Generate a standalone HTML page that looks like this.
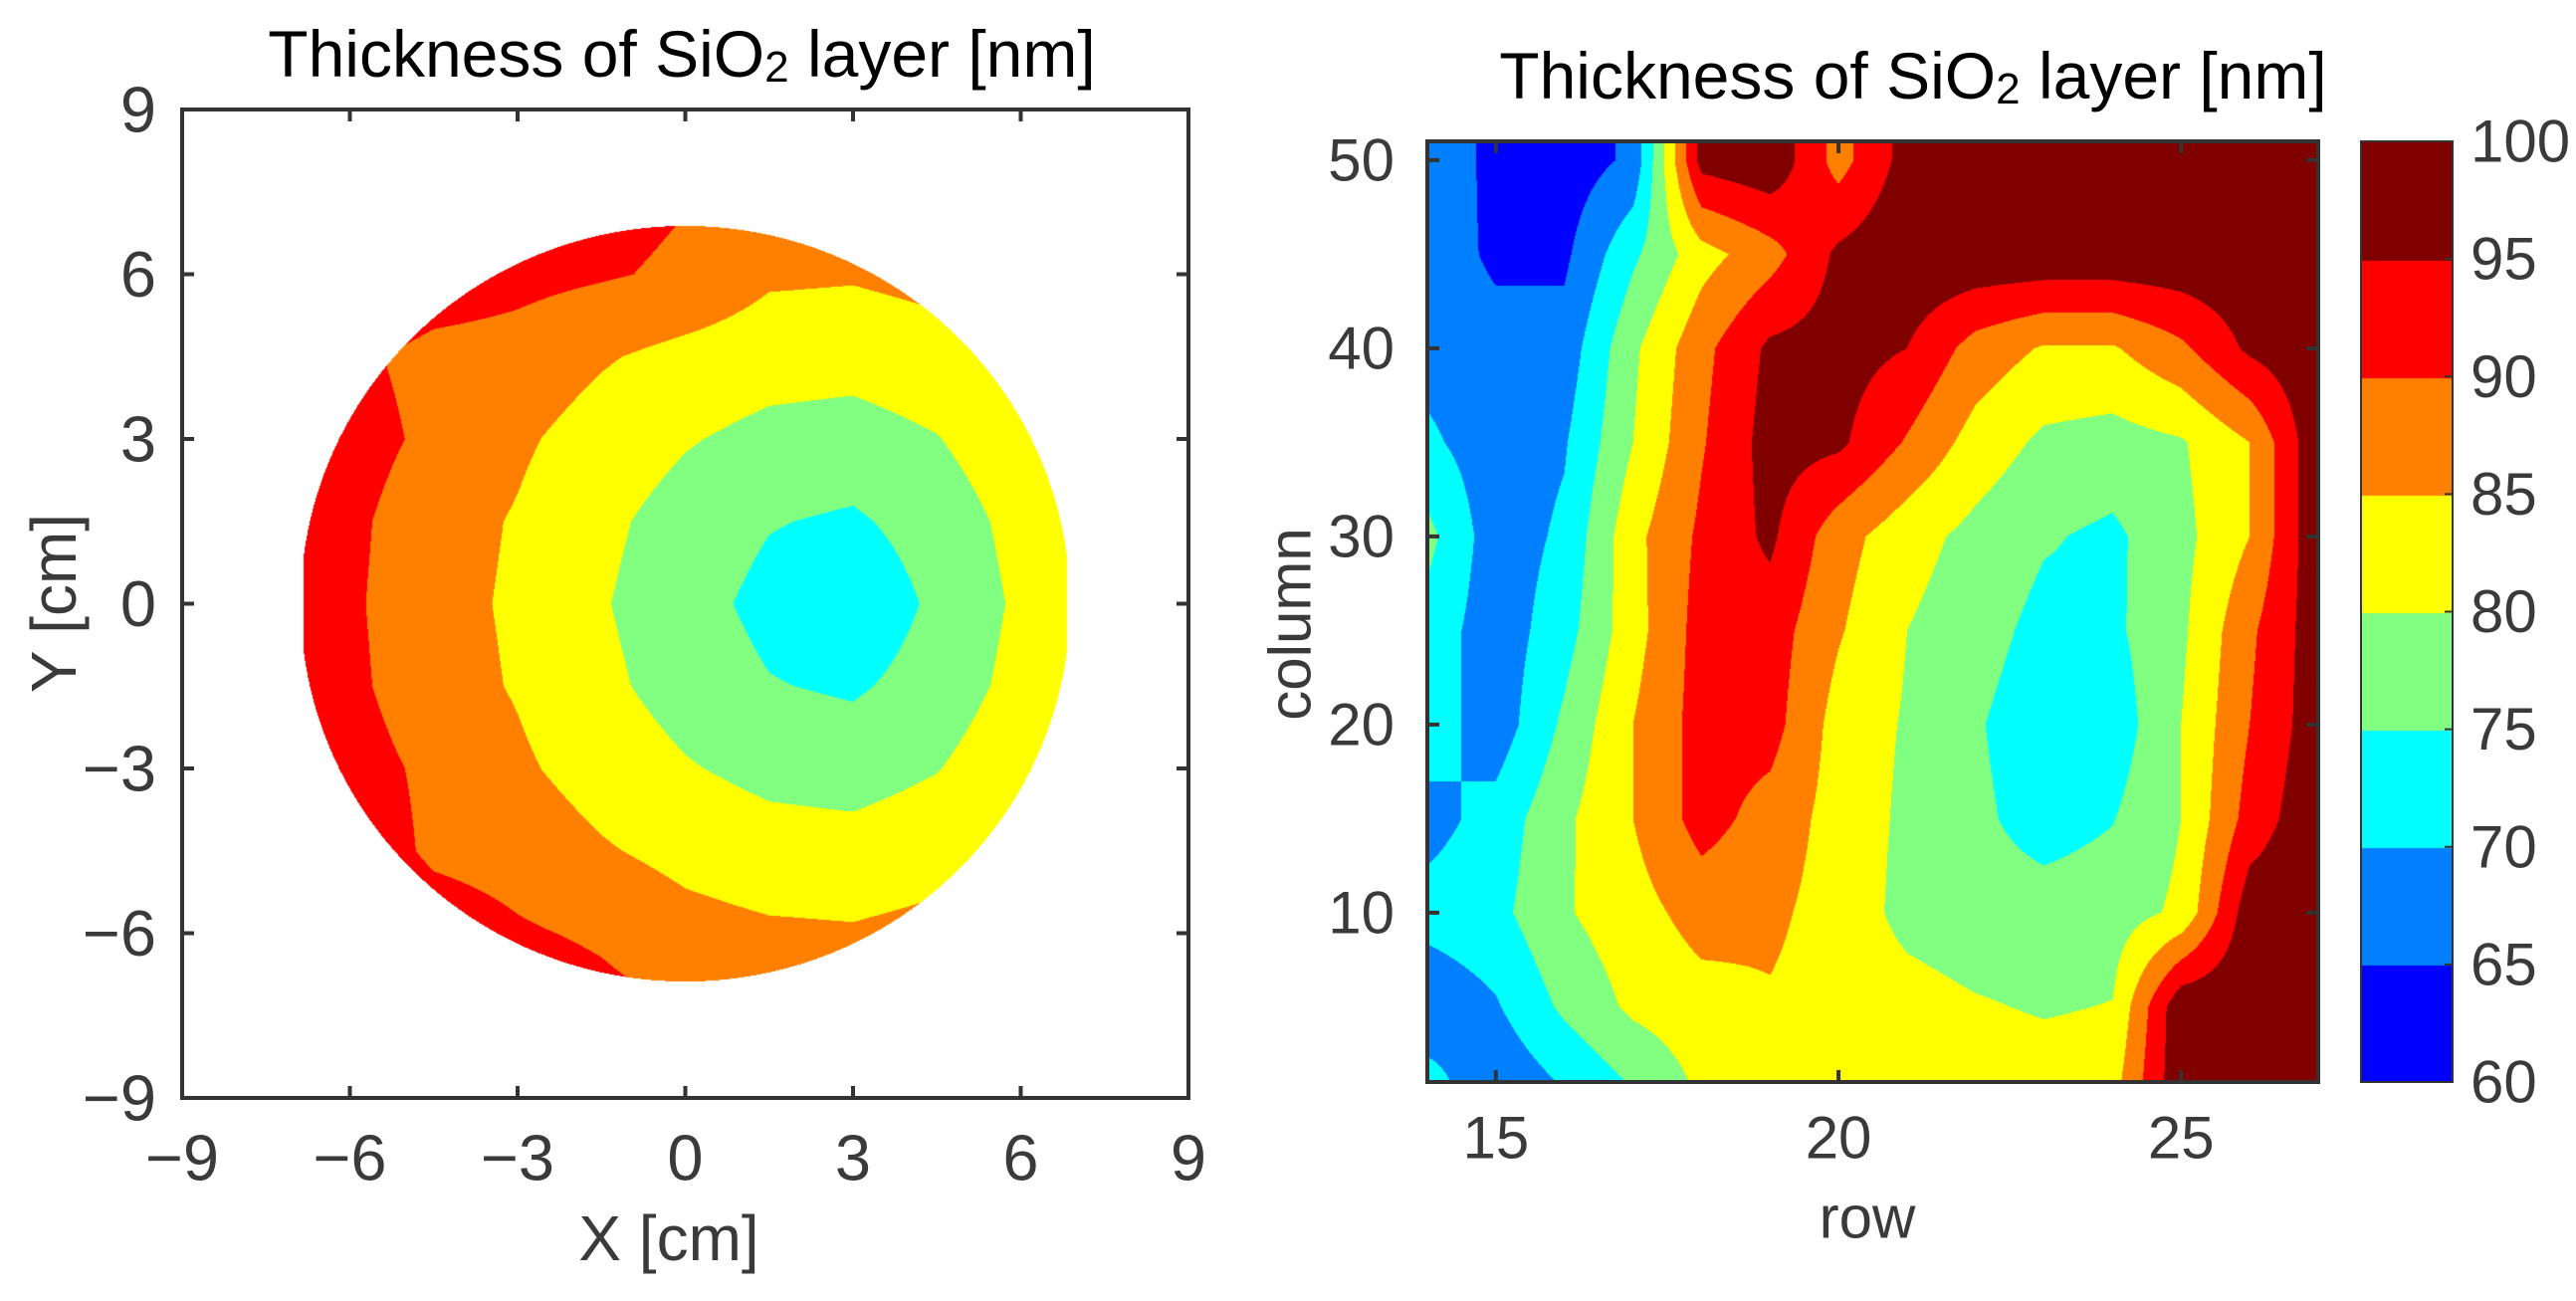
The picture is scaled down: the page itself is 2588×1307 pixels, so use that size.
<!DOCTYPE html>
<html><head><meta charset="utf-8">
<style>
html,body{margin:0;padding:0;background:#fff;}
#wrap{position:relative;width:2588px;height:1307px;overflow:hidden;background:#fff;font-family:"Liberation Sans",Arial,sans-serif;}
canvas{position:absolute;}
svg{position:absolute;left:0;top:0;}
</style></head>
<body>
<div id="wrap">
<canvas id="c1"></canvas>
<canvas id="c2"></canvas>
<canvas id="cb"></canvas>
<svg id="ov" width="2588" height="1307"></svg>
</div>
<script>
// ---- data ----
const levels=[60,65,70,75,80,85,90,95,100];
const levelColors=["#0000ff","#0080ff","#00ffff","#80ff80","#ffff00","#ff8000","#ff0000","#800000"];
const waferX=[-7.5,-6,-4.5,-3,-1.5,0,1.5,3,4.5,6,7.5];
const waferY=[-7.5,-6,-4.5,-3,-1.5,0,1.5,3,4.5,6,7.5];
const waferZ=[
[100.7,98.0,95.7,93.5,91.7,90.3,89.5,89.3,90.0,91.9,94.7],
[98.5,95.7,93.0,90.6,89.3,86.8,85.8,85.5,86.5,88.8,91.9],
[96.7,93.7,89.0,88.0,85.5,83.5,82.1,81.8,83.0,85.8,89.5],
[95.4,92.1,88.9,85.8,82.9,80.4,78.6,78.0,79.8,83.3,87.5],
[94.5,91.1,87.0,84.6,81.1,78.0,75.3,74.3,77.2,81.6,86.2],
[94.2,90.8,86.6,84.3,80.4,77.0,73.5,71.2,76.0,80.9,85.8],
[94.5,91.1,87.0,84.6,81.1,78.0,75.3,74.3,77.2,81.6,86.2],
[95.4,92.1,88.9,85.8,82.9,80.4,78.6,78.0,79.8,83.3,87.5],
[96.7,91.0,88.5,88.0,85.5,83.5,82.1,81.8,83.0,85.8,89.5],
[98.5,95.7,93.0,91.5,90.5,89.2,85.8,85.5,86.5,88.8,91.9],
[100.7,98.0,95.7,93.5,91.7,90.3,89.5,89.3,90.0,91.9,94.7]
];
const rowX=[14,15,16,17,18,19,20,21,22,23,24,25,26,27];
const colY=[1,5,10,15,20,25,30,35,40,45,50,51];
const gridZ=[
[72,66,70.5,75.5,81,83,83.5,83.5,83,82.5,83,99,99,99],
[66,69.5,76,81,83,84.5,83,82,80.5,79.5,80.2,99,99,99],
[72,73.5,79.5,83,87,86,83,78.5,77,77,77.5,81,98,99],
[68,72,79,85,92,88,83,79,76,73,74.8,80,92,99],
[73,67,76,85,92,92,83,79.5,75.5,72,72,80,90,98],
[73,67,73,83,92,92.5,85.5,80,77,73.5,74,79,89,98],
[76.5,67,71,83.5,91,96,87,82,78.5,75.5,74,78.5,85,99],
[71,67,69.5,80,89.5,97,96,89.5,83,79,78,79.5,85,99],
[68,67,67,79,88.5,96,97,95,88,84.5,84.5,89,96,99],
[68,64,64,74,83,88,96,99,99,99,99,99,99,99],
[70,63,62,66,97,99,88,97,99,99,99,99,99,99],
[70,63,62,66,97,99,88,97,99,99,99,99,99,99]
];
const leftTicks=[-9,-6,-3,0,3,6,9];
const rightXTicks=[15,20,25];
const rightYTicks=[10,20,30,40,50];
const cbTicks=[60,65,70,75,80,85,90,95,100];

// ---- geometry ----
const L={x0:183,x1:1194,y0:110,y1:1103,xmin:-9,xmax:9,ymin:-9,ymax:9};
const R={x0:1434,x1:2329,y0:142,y1:1087,xmin:14,xmax:27,ymin:1,ymax:51};
const CB={x0:2372,x1:2464,y0:142,y1:1087};
function sx(A,v){return A.x0+(v-A.xmin)/(A.xmax-A.xmin)*(A.x1-A.x0);}
function sy(A,v){return A.y1-(v-A.ymin)/(A.ymax-A.ymin)*(A.y1-A.y0);}
function idx(arr,v){let i=0;while(i<arr.length-2&&v>arr[i+1])i++;return i;}
function interp(xs,ys,Z,x,y){
  const i=idx(xs,x),j=idx(ys,y);
  let tx=(x-xs[i])/(xs[i+1]-xs[i]),ty=(y-ys[j])/(ys[j+1]-ys[j]);
  tx=Math.max(0,Math.min(1,tx));ty=Math.max(0,Math.min(1,ty));
  const a=Z[j][i],b=Z[j][i+1],c=Z[j+1][i],d=Z[j+1][i+1];
  return (a*(1-tx)+b*tx)*(1-ty)+(c*(1-tx)+d*tx)*ty;
}
function rgb(h){return [parseInt(h.substr(1,2),16),parseInt(h.substr(3,2),16),parseInt(h.substr(5,2),16)];}
const RGB=levelColors.map(rgb);
function band(v){for(let k=0;k<levels.length-1;k++){if(v<levels[k+1])return Math.max(0,k);}return levels.length-2;}
function render(cv,A,xs,ys,Z,mask){
  const w=Math.round(A.x1-A.x0),h=Math.round(A.y1-A.y0);
  cv.width=w;cv.height=h;cv.style.left=A.x0+'px';cv.style.top=A.y0+'px';
  const ctx=cv.getContext('2d');const im=ctx.createImageData(w,h);
  for(let py=0;py<h;py++){const y=A.ymax-(py+0.5)/h*(A.ymax-A.ymin);
    for(let px=0;px<w;px++){const x=A.xmin+(px+0.5)/w*(A.xmax-A.xmin);
      const o=(py*w+px)*4;
      if(mask&&!mask(x,y)){im.data[o]=255;im.data[o+1]=255;im.data[o+2]=255;im.data[o+3]=0;continue;}
      const c=RGB[band(interp(xs,ys,Z,x,y))];
      im.data[o]=c[0];im.data[o+1]=c[1];im.data[o+2]=c[2];im.data[o+3]=255;}}
  ctx.putImageData(im,0,0);
}
render(document.getElementById('c1'),L,waferX,waferY,waferZ,(x,y)=>x*x+y*y<=6.88*6.88&&Math.abs(x)<=6.83);
render(document.getElementById('c2'),R,rowX,colY,gridZ,null);
// colorbar
(function(){const cv=document.getElementById('cb');const w=CB.x1-CB.x0,h=CB.y1-CB.y0;
cv.width=w;cv.height=h;cv.style.left=CB.x0+'px';cv.style.top=CB.y0+'px';const ctx=cv.getContext('2d');
levelColors.forEach((c,k)=>{const yTop=h-(levels[k+1]-60)/40*h,yBot=h-(levels[k]-60)/40*h;ctx.fillStyle=c;ctx.fillRect(0,Math.floor(yTop),w,Math.ceil(yBot-yTop)+1);});})();

// ---- overlay ----
const NS='http://www.w3.org/2000/svg';const ov=document.getElementById('ov');
function el(tag,attrs,txt){const e=document.createElementNS(NS,tag);for(const k in attrs)e.setAttribute(k,attrs[k]);if(txt!==undefined)e.textContent=txt;ov.appendChild(e);return e;}
const AX='#333333',TX='#3a3a3a';
function frame(A,name){const r=el('rect',{x:A.x0,y:A.y0,width:A.x1-A.x0,height:A.y1-A.y0,fill:'none',stroke:AX,'stroke-width':4});

}
frame(L,'left-axes-frame');frame(R,'right-axes-frame');
const cbr=el('rect',{x:CB.x0,y:CB.y0,width:CB.x1-CB.x0,height:CB.y1-CB.y0,fill:'none',stroke:AX,'stroke-width':2});


function tick(x1,y1,x2,y2){const t=el('line',{x1:x1,y1:y1,x2:x2,y2:y2,stroke:AX,'stroke-width':4});

}
function label(x,y,s,anchor,size,name){const t=el('text',{x:x,y:y,'font-size':size,fill:TX,'text-anchor':anchor,'dominant-baseline':'central','font-family':'Liberation Sans, Arial, sans-serif'},s);

return t;}
const TL=12;
leftTicks.forEach(v=>{const X=sx(L,v),Y=sy(L,v);
 tick(X,L.y1,X,L.y1-TL);tick(X,L.y0,X,L.y0+TL);tick(L.x0,Y,L.x0+TL,Y);tick(L.x1,Y,L.x1-TL,Y);
 const s=v<0?'\u2212'+(-v):String(v);
 label(X,1163,s,'middle',65,'x-tick-label');label(157,Y,s,'end',65,'y-tick-label');});
rightXTicks.forEach(v=>{const X=sx(R,v);tick(X,R.y1,X,R.y1-TL);tick(X,R.y0,X,R.y0+TL);label(X,1143,String(v),'middle',60,'x-tick-label');});
rightYTicks.forEach(v=>{const Y=sy(R,v);tick(R.x0,Y,R.x0+TL,Y);tick(R.x1,Y,R.x1-TL,Y);label(1401,Y,String(v),'end',60,'y-tick-label');});
cbTicks.forEach(v=>{const Y=CB.y1-(v-60)/40*(CB.y1-CB.y0);
 const t=el('line',{x1:CB.x1,y1:Y,x2:CB.x1-8,y2:Y,stroke:AX,'stroke-width':2});
 
 
 label(2482,Y,String(v),'start',60,'colorbar-tick-label');});
function title(x,y,name){const t=el('text',{x:x,y:y,'font-size':66,fill:'#000','text-anchor':'middle','dominant-baseline':'central','font-family':'Liberation Sans, Arial, sans-serif'});


t.innerHTML='Thickness of SiO<tspan font-size="44" dy="13">2</tspan><tspan dy="-13"> layer [nm]</tspan>';}
title(685,54,'left-chart-title');title(1922,76,'right-chart-title');
label(672,1244,'X [cm]','middle',64,'x-axis-title');
const yl=label(54,606,'Y [cm]','middle',64,'y-axis-title');yl.setAttribute('transform','rotate(-90 54 606)');
label(1876,1223,'row','middle',60,'x-axis-title-row');
const cl=label(1296,627,'column','middle',60,'y-axis-title-column');cl.setAttribute('transform','rotate(-90 1296 627)');
</script>
</body></html>
